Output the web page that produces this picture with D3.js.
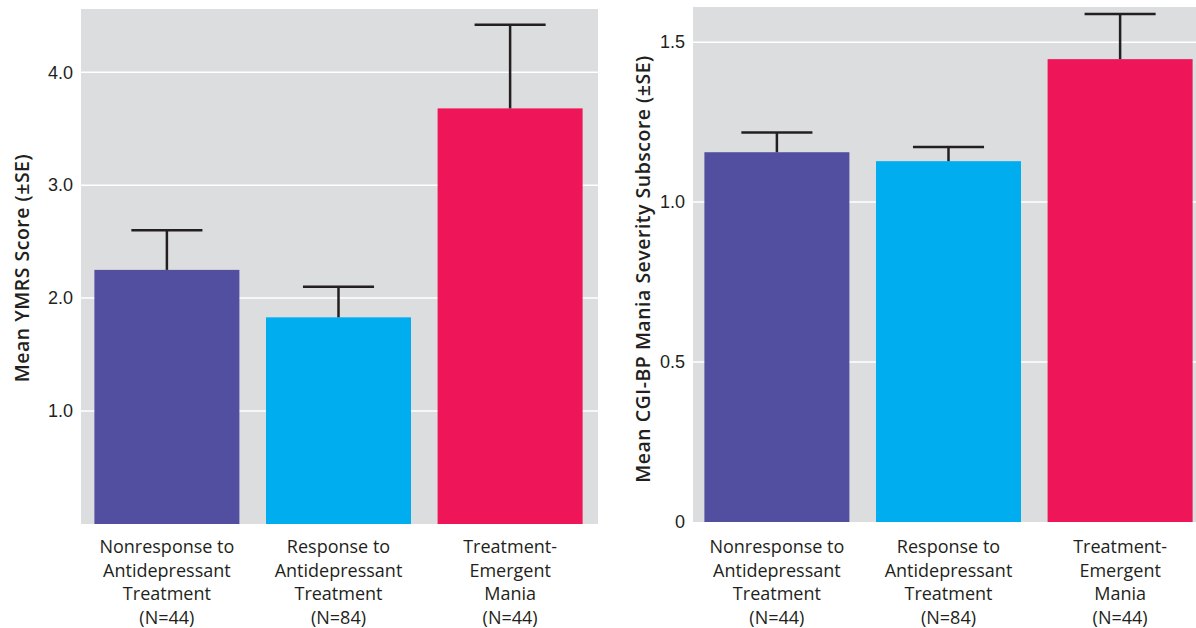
<!DOCTYPE html>
<html>
<head>
<meta charset="utf-8">
<script src="https://cdn.jsdelivr.net/npm/d3@7"></script>
<style>
  body { margin: 0; background: #fff; }
  svg { display: block; font-family: "Open Sans", "Noto Sans", sans-serif; }
</style>
</head>
<body>
<svg id="chart" width="1196" height="628"></svg>
<script>
// Groups shared by both panels
const groups = [
  ["Nonresponse to", "Antidepressant", "Treatment", "(N=44)"],
  ["Response to", "Antidepressant", "Treatment", "(N=84)"],
  ["Treatment-", "Emergent", "Mania", "(N=44)"]
];
const colours = ["#534fa0", "#00aeef", "#ee1559"];

// YMRS panel
const ymrsMean = [2.25, 1.83, 3.68];
const ymrsSE = [0.35, 0.27, 0.74];
const ymrsTicks = [1, 2, 3, 4];

// CGI-BP panel
const cgiMean = [1.156, 1.128, 1.447];
const cgiSE = [0.062, 0.044, 0.141];
const cgiTicks = [0, 0.5, 1.0, 1.5];

const svg = d3.select("#chart");

function drawPanel(cfg) {
  const g = svg.append("g");

  // Compute scales
  const x = d3.scaleBand()
    .domain(d3.range(cfg.mean.length))
    .range(cfg.bandRange)
    .paddingInner(0.155)
    .paddingOuter(0.078);

  const y = d3.scaleLinear()
    .domain(cfg.yDomain)
    .range([cfg.bottom, cfg.top]);

  // Gray background
  g.append("rect")
    .attr("x", cfg.bgLeft)
    .attr("y", y(cfg.yDomain[1]))
    .attr("width", cfg.bgRight - cfg.bgLeft)
    .attr("height", y(0) - y(cfg.yDomain[1]))
    .attr("fill", "#dcdddf");

  // White gridlines
  g.selectAll("line.grid")
    .data(cfg.ticks.filter(t => t > 0))
    .join("line")
      .attr("class", "grid")
      .attr("x1", cfg.bgLeft)
      .attr("x2", cfg.bgRight)
      .attr("y1", d => y(d))
      .attr("y2", d => y(d))
      .attr("stroke", "#fff")
      .attr("stroke-width", 1.5);

  // Y axis tick labels
  const yAxis = d3.axisLeft(y)
    .tickValues(cfg.ticks)
    .tickFormat(cfg.format)
    .tickSize(0)
    .tickPadding(8);

  const yAxisG = g.append("g")
    .attr("transform", `translate(${cfg.bgLeft},0)`)
    .call(yAxis);
  yAxisG.select(".domain").remove();
  yAxisG.selectAll("text")
    .attr("font-size", 18)
    .attr("fill", "#231f20")
    .style("font-family", "inherit");

  // Bars
  g.selectAll("rect.bar")
    .data(cfg.mean)
    .join("rect")
      .attr("class", "bar")
      .attr("x", (d, i) => x(i))
      .attr("y", d => y(d))
      .attr("width", x.bandwidth())
      .attr("height", d => y(0) - y(d))
      .attr("fill", (d, i) => colours[i]);

  // Error bars (upper only)
  const capHalf = x.bandwidth() * 0.245;
  const errs = cfg.mean.map((m, i) => ({ i: i, m: m, top: m + cfg.se[i] }));
  g.selectAll("line.err")
    .data(errs)
    .join("line")
      .attr("class", "err")
      .attr("x1", d => x(d.i) + x.bandwidth() / 2)
      .attr("x2", d => x(d.i) + x.bandwidth() / 2)
      .attr("y1", d => y(d.m))
      .attr("y2", d => y(d.top))
      .attr("stroke", "#231f20")
      .attr("stroke-width", 2.5);
  g.selectAll("line.cap")
    .data(errs)
    .join("line")
      .attr("class", "cap")
      .attr("x1", d => x(d.i) + x.bandwidth() / 2 - capHalf)
      .attr("x2", d => x(d.i) + x.bandwidth() / 2 + capHalf)
      .attr("y1", d => y(d.top))
      .attr("y2", d => y(d.top))
      .attr("stroke", "#231f20")
      .attr("stroke-width", 2.5);

  // Category labels
  const labels = g.selectAll("text.cat")
    .data(groups)
    .join("text")
      .attr("class", "cat")
      .attr("text-anchor", "middle")
      .attr("font-size", 18)
      .attr("fill", "#231f20")
      .attr("x", (d, i) => x(i) + x.bandwidth() / 2)
      .attr("y", 553);
  labels.selectAll("tspan")
    .data(d => d)
    .join("tspan")
      .attr("x", function() { return this.parentNode.getAttribute("x"); })
      .attr("dy", (d, i) => i === 0 ? 0 : 23.5)
      .text(d => d);

  // Y axis title
  g.append("text")
    .attr("transform", `translate(${cfg.titleX},${cfg.titleY}) rotate(-90)`)
    .attr("text-anchor", "middle")
    .attr("font-size", 19.5)
    .attr("font-weight", 600)
    .attr("letter-spacing", 0.5)
    .attr("fill", "#231f20")
    .text(cfg.title);
}

drawPanel({
  mean: ymrsMean, se: ymrsSE, ticks: ymrsTicks,
  format: d3.format(".1f"),
  yDomain: [0, 4.56], top: 9, bottom: 524,
  bandRange: [81, 596], bgLeft: 81, bgRight: 598,
  title: "Mean YMRS Score (±SE)", titleX: 29, titleY: 268
});

drawPanel({
  mean: cgiMean, se: cgiSE, ticks: cgiTicks,
  format: d => d === 0 ? "0" : d3.format(".1f")(d),
  yDomain: [0, 1.61], top: 7, bottom: 522,
  bandRange: [691, 1206], bgLeft: 693, bgRight: 1196,
  title: "Mean CGI-BP Mania Severity Subscore (±SE)", titleX: 650, titleY: 269
});
</script>
</body>
</html>
